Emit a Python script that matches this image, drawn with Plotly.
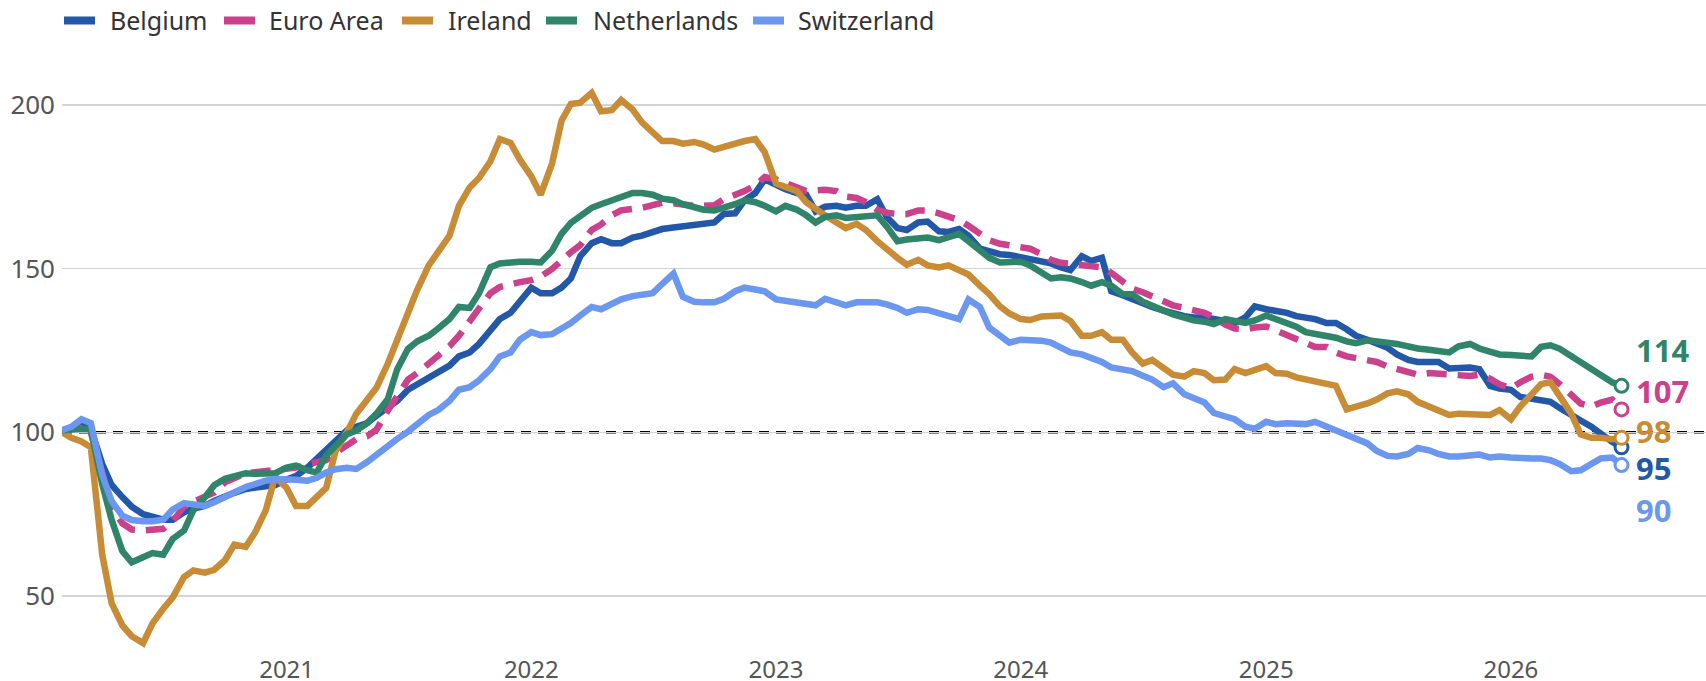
import pandas as pd
import plotly.graph_objects as go

# semi-monthly observation dates (1st and 15th), Feb 2020 - Jun 2026
dates = pd.date_range("2020-02-01", "2026-06-15", freq="SMS")

belgium = [
    100.2, 101.1, 103.4, 101.1, 90.3, 83.9, 80.2, 77.3, 75.0, 74.1,
    73.3, 73.3, 75.6, 76.7, 77.5, 79.0, 80.5, 81.5, 82.7, 83.0,
    83.2, 83.9, 85.6, 86.6, 89.2, 91.8, 94.3, 97.1, 100.6, 101.7,
    102.8, 105.1, 107.9, 109.6, 113.0, 114.7, 116.4, 118.1, 120.4, 123.2,
    124.4, 127.0, 131.2, 134.6, 136.5, 140.2, 144.2, 142.5, 142.5, 144.2,
    147.0, 153.8, 157.8, 159.0, 157.8, 157.8, 159.5, 160.1, 161.2, 162.1,
    162.6, 162.9, 163.5, 163.7, 164.1, 166.7, 166.9, 170.9, 173.1, 177.3,
    175.4, 174.3, 173.1, 172.6, 167.5, 168.9, 169.2, 168.6,
    169.2, 169.2, 171.2, 165.8, 162.4, 161.8, 164.1, 164.4, 161.4, 161.2,
    162.1, 160.1, 156.1, 155.3, 154.4, 154.2, 153.5, 153.1, 152.1, 151.6,
    150.4, 149.6, 153.8, 152.4, 153.3, 143.1, 141.9, 140.8, 139.1, 138.3,
    137.2, 136.3, 135.5, 135.1, 135.1, 134.6, 134.0, 133.4,
    135.1, 138.5, 137.6, 137.2, 136.5, 135.5, 135.1, 134.6, 133.4, 133.4,
    131.5, 129.5, 128.3, 127.2, 125.8, 123.8, 122.1, 121.5, 121.5, 121.5,
    119.5, 119.5, 119.8, 119.3, 114.2, 113.4, 113.0, 110.8, 110.2, 110.2,
    109.3, 107.4, 105.1, 103.6, 101.7, 99.4, 97.1, 95.4,
]

euro_area = [
    100.0, 101.1, 102.2, 100.0, 87.5, 77.3, 72.2, 70.3, 70.0, 70.2,
    70.5, 72.8, 77.3, 78.8, 80.5, 81.6, 84.7, 86.1, 87.5, 87.8,
    88.1, 88.4, 88.9, 89.2, 90.3, 91.1, 91.5, 93.7, 96.0, 97.9,
    98.8, 100.8, 106.7, 111.3, 116.1, 118.1, 121.0, 123.8, 126.3, 129.5,
    134.0, 138.5, 142.5, 144.4, 145.3, 145.9, 146.5, 147.6, 149.9, 152.7,
    155.0, 157.2, 161.8, 163.5, 166.3, 167.8, 168.0, 168.6, 169.4, 170.1,
    170.0, 169.5, 169.2, 169.2, 169.4, 171.2, 172.3, 173.7, 175.4, 178.0,
    177.3, 176.2, 174.8, 173.7, 173.9, 174.1, 173.7, 172.0,
    171.6, 170.3, 168.0, 167.1, 166.7, 166.7, 167.8, 167.8, 166.9, 166.0,
    164.8, 163.1, 161.0, 158.7, 157.6, 157.2, 156.7, 156.1, 154.4, 152.7,
    151.8, 151.5, 151.0, 150.8, 150.4, 148.7, 146.2, 143.9, 142.8, 141.4,
    139.7, 138.8, 138.0, 137.2, 136.5, 135.1, 132.9, 131.7,
    131.5, 132.0, 132.3, 131.2, 129.7, 128.3, 127.0, 126.1, 126.1, 124.4,
    123.2, 122.7, 122.4, 121.5, 120.1, 119.3, 118.1, 117.6, 118.1, 117.9,
    117.6, 117.0, 117.2, 117.6, 116.4, 114.7, 113.4, 115.3, 117.0, 117.6,
    117.0, 114.7, 111.3, 108.8, 107.9, 109.1, 110.0, 107.0,
]

ireland = [
    100.0, 98.3, 97.2, 95.4, 62.6, 47.8, 41.0, 37.7, 35.6, 41.6,
    46.1, 49.5, 55.8, 57.8, 57.1, 58.0, 60.9, 65.7, 65.0, 69.4,
    76.2, 86.5, 83.0, 77.5, 77.5, 80.5, 83.0, 94.3, 100.0, 105.7,
    110.2, 113.6, 121.0, 128.3, 137.4, 143.6, 151.0, 155.0, 160.1, 169.2,
    174.8, 177.7, 182.8, 189.6, 188.4, 183.3, 178.2, 172.6, 182.2, 195.2,
    200.3, 200.7, 203.7, 198.1, 198.4, 201.5, 198.6, 194.7, 191.3, 189.0,
    189.0, 188.2, 188.7, 187.9, 186.4, 187.3, 188.2, 189.0, 189.6, 185.6,
    176.0, 174.8, 173.7, 170.3, 168.0, 166.3, 164.1, 162.4,
    163.7, 161.8, 158.4, 155.8, 153.3, 151.2, 152.7, 151.0, 150.4, 151.0,
    149.6, 148.2, 144.8, 142.2, 138.5, 136.3, 134.6, 134.3, 135.4, 135.7,
    135.7, 134.0, 129.5, 129.5, 130.6, 128.3, 128.3, 124.4, 121.0, 122.1,
    119.8, 117.6, 117.0, 118.7, 118.1, 115.9, 116.1, 119.3,
    118.1, 119.0, 120.2, 118.1, 117.9, 116.8, 116.1, 115.6, 115.0, 114.2,
    107.0, 107.7, 108.8, 110.0, 111.9, 112.5, 111.6, 109.3, 107.9, 107.0,
    105.3, 105.7, 105.7, 105.4, 105.3, 106.8, 104.0, 107.9, 111.9, 114.7,
    115.3, 111.3, 105.7, 99.4, 98.3, 98.3, 97.9, 98.3,
]

netherlands = [
    100.6, 100.9, 101.1, 100.9, 84.1, 73.3, 63.7, 60.3, 62.0, 63.1,
    62.6, 67.4, 70.0, 76.2, 80.1, 83.8, 85.8, 86.6, 87.5, 87.3,
    87.2, 87.5, 89.2, 89.8, 88.4, 87.7, 92.9, 96.0, 99.4, 100.5,
    102.8, 105.7, 110.2, 119.3, 125.5, 127.8, 129.5, 131.7, 134.6, 138.3,
    138.0, 142.5, 150.4, 151.6, 152.1, 152.1, 152.1, 151.9, 155.5, 160.6,
    164.0, 166.3, 168.6, 169.7, 170.9, 172.0, 173.1, 173.1, 172.6, 171.4,
    170.9, 169.7, 168.6, 168.0, 167.8, 168.6, 169.7, 170.9, 170.3, 169.2,
    167.5, 169.2, 168.0, 166.3, 164.1, 165.8, 166.3, 165.5,
    165.8, 166.3, 166.3, 162.9, 158.4, 158.9, 159.2, 159.5, 158.7, 159.5,
    160.6, 158.4, 155.3, 153.3, 151.9, 151.9, 152.1, 151.0, 148.7, 147.0,
    147.4, 147.0, 145.9, 144.8, 145.9, 144.8, 142.2, 142.2, 139.9, 138.5,
    137.2, 136.0, 134.9, 134.2, 133.8, 133.1, 134.6, 134.0,
    133.4, 134.2, 135.7, 134.6, 133.4, 132.3, 130.6, 130.0, 129.7, 128.9,
    127.8, 127.2, 128.1, 128.0, 127.4, 127.0, 126.1, 125.6, 125.2, 124.7,
    124.4, 126.3, 127.0, 125.6, 124.4, 123.8, 123.6, 123.2, 123.2, 126.1,
    126.6, 125.5, 123.2, 121.5, 119.5, 117.6, 115.3, 114.2,
]

switzerland = [
    100.6, 101.7, 104.0, 102.8, 86.9, 79.0, 74.5, 73.2, 72.8, 72.8,
    73.3, 76.4, 78.4, 77.8, 77.5, 78.6, 80.0, 81.6, 83.3, 84.3,
    85.2, 85.7, 85.7, 85.5, 85.2, 86.1, 87.7, 88.7, 89.2, 88.8,
    90.9, 93.2, 95.6, 98.0, 100.2, 102.8, 105.3, 106.8, 109.6, 113.0,
    113.8, 115.9, 119.3, 123.2, 124.4, 128.3, 130.6, 129.7, 130.0, 131.7,
    133.4, 135.7, 138.3, 137.6, 139.1, 140.6, 141.6, 142.2, 142.5, 145.3,
    148.5, 141.4, 139.9, 139.7, 139.7, 140.8, 143.1, 144.2, 143.6, 143.1,
    140.6, 140.2, 139.9, 139.4, 138.8, 140.8, 139.7, 138.8,
    139.7, 139.9, 139.7, 139.1, 138.0, 136.5, 137.6, 137.4, 136.5, 135.4,
    134.6, 140.6, 138.3, 132.0, 129.2, 127.4, 128.3, 128.3, 128.0, 127.4,
    126.1, 124.4, 123.8, 122.9, 121.5, 119.8, 119.0, 118.7, 117.3, 116.1,
    113.8, 115.0, 111.6, 110.4, 109.1, 105.9, 105.1, 104.0,
    101.7, 101.1, 103.2, 102.5, 102.8, 102.5, 102.5, 103.2, 101.7, 100.5,
    99.4, 97.9, 96.6, 94.3, 92.8, 92.6, 93.4, 95.2, 94.5, 93.4,
    92.6, 92.6, 92.8, 93.2, 92.3, 92.6, 92.3, 92.0, 92.0, 92.0,
    91.5, 90.3, 88.1, 88.4, 90.3, 92.0, 92.3, 90.0,
]

series_names = ["Belgium", "Euro Area", "Ireland", "Netherlands", "Switzerland"]
series_values = [belgium, euro_area, ireland, netherlands, switzerland]
series_colors = ["#2357a8", "#cc418c", "#c98c36", "#2f8469", "#6b97ee"]
series_dash = ["solid", "20px,11px", "solid", "solid", "solid"]

year_ticks = ["2021-01-01", "2022-01-01", "2023-01-01", "2024-01-01", "2025-01-01", "2026-01-01"]
year_labels = ["2021", "2022", "2023", "2024", "2025", "2026"]
y_ticks = [50, 100, 150, 200]
baseline = 100

for v in series_values:
    assert len(v) == len(dates), (len(v), len(dates))

# ---- layout geometry (pixels) ----
W, H = 1706, 681
ML, MR, MT, MB = 62, 0, 60, 33
PW, PH = W - ML - MR, H - MT - MB
label_yshift = [-21, 18, 7, 36, -45]            # end labels: Belgium, EA, IE, NL, CH
legend_swatch_x = [64, 224, 402, 546, 753]      # legend swatch left edges
legend_text_x = [108, 267, 446, 591, 796]       # legend text left edges
LEG_Y = 20


def px_x(px):
    return (px - ML) / PW


def px_y(py):
    return (H - MB - py) / PH


FONT = "Noto Sans"
fig = go.Figure()

for name, vals, col, dash in zip(series_names, series_values, series_colors, series_dash):
    fig.add_trace(go.Scatter(
        x=dates, y=vals, mode="lines", name=name, showlegend=False,
        line=dict(color=col, width=6.5, dash=dash),
        hoverinfo="skip",
    ))

# open end markers
for name, vals, col in zip(series_names, series_values, series_colors):
    fig.add_trace(go.Scatter(
        x=[dates[-1]], y=[vals[-1]], mode="markers", showlegend=False,
        marker=dict(symbol="circle", size=13, color="white", line=dict(color=col, width=3)),
        hoverinfo="skip",
    ))

# end labels
for name, vals, col, dy in zip(series_names, series_values, series_colors, label_yshift):
    fig.add_annotation(
        x=dates[-1], y=vals[-1], text=f"<b>{round(vals[-1])}</b>",
        showarrow=False, xanchor="left", yanchor="middle",
        xshift=12, yshift=dy,
        font=dict(family=FONT, size=31, color=col),
    )

# legend (swatch + label)
for name, col, sx, tx in zip(series_names, series_colors, legend_swatch_x, legend_text_x):
    fig.add_shape(
        type="rect", xref="paper", yref="paper",
        x0=px_x(sx), x1=px_x(sx + 31), y0=px_y(LEG_Y + 4.5), y1=px_y(LEG_Y - 3.5),
        fillcolor=col, line=dict(width=0),
    )
    fig.add_annotation(
        xref="paper", yref="paper", x=px_x(tx), y=px_y(LEG_Y),
        text=name, showarrow=False, xanchor="left", yanchor="middle",
        font=dict(family=FONT, size=25, color="#333333"),
    )

# reference line at 100
fig.add_shape(
    type="line", xref="paper", x0=0, x1=1, yref="y", y0=baseline, y1=baseline,
    line=dict(color="black", width=2.5, dash="10px,7px"), layer="below",
)

fig.update_layout(
    width=W, height=H,
    margin=dict(l=ML, r=MR, t=MT, b=MB, autoexpand=False),
    paper_bgcolor="white", plot_bgcolor="white",
    font=dict(family=FONT, size=24, color="#555555"),
    showlegend=False,
    xaxis=dict(
        type="date", range=["2020-02-01", "2026-10-19"],
        tickvals=year_ticks, ticktext=year_labels,
        showgrid=False, zeroline=False, showline=False, ticks="",
        automargin=False, ticklabelstandoff=5,
        tickfont=dict(family=FONT, size=24, color="#555555"),
    ),
    yaxis=dict(
        range=[34.1, 213.75], tickvals=y_ticks,
        showgrid=True, gridcolor="#d4d4d4", gridwidth=1.2,
        zeroline=False, showline=False, ticks="",
        automargin=False, ticklabelstandoff=6,
        tickfont=dict(family=FONT, size=26, color="#555555"),
    ),
)

fig.write_html(
    "out.html",
    config={"displayModeBar": False, "staticPlot": True},
    post_script="document.body.style.margin='0';document.body.style.overflow='hidden';",
)
